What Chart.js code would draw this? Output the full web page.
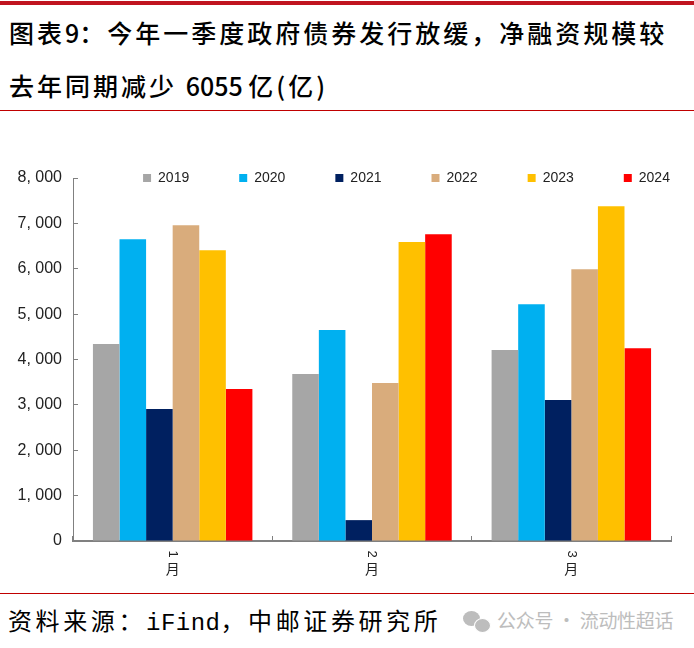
<!DOCTYPE html>
<html>
<head>
<meta charset="utf-8">
<script src="https://cdn.jsdelivr.net/npm/chart.js@4"></script>
<style>
  html, body { margin: 0; padding: 0; background: #fff; }
  body { width: 694px; height: 648px; position: relative; overflow: hidden; font-family: "Noto Sans CJK SC", sans-serif; }
  .abs { position: absolute; white-space: nowrap; }
  #topbar { left: 0; top: 1px; width: 694px; height: 4px; background: #c0141f; }
  #line1 { left: 0; top: 110px; width: 694px; height: 1px; background: #c00000; }
  #line2 { left: 0; top: 593px; width: 694px; height: 1px; background: #c00000; }
  .title { left: 9px; font-size: 25px; font-weight: 500; letter-spacing: 3px; color: #000; line-height: 34px; }
  .title b { font-weight: 500; letter-spacing: 0; }
  #source { left: 8px; top: 603px; font-size: 24px; letter-spacing: 3.6px; line-height: 34px; color: #000; }
  #source span { font-family: "Liberation Mono", monospace; letter-spacing: 0.5px; }
  #mark { left: 497px; top: 606px; font-size: 19px; letter-spacing: -0.3px; line-height: 28px; color: #bdbdbd; }
  .dot { position: absolute; border-radius: 50%; background: #bdbdbd; }
  #wrap { left: 0; top: 104px; width: 694px; height: 476px; }
</style>
</head>
<body>
<div class="abs" id="wrap"><canvas id="grafico" width="694" height="476"></canvas></div>
<div class="abs" id="topbar"></div>
<div class="abs title" style="top:15px">图表<b>9</b>：今年一季度政府债券发行放缓，净融资规模较</div>
<div class="abs title" style="top:68px">去年同期减少 <b>6055 </b>亿(亿)</div>
<div class="abs" id="line1"></div>
<div class="abs" id="line2"></div>
<div class="abs" id="source">资料来源：<span>iFind</span>，中邮证券研究所</div>
<div class="dot" style="left:463px;top:611px;width:17px;height:15px"></div>
<div class="dot" style="left:474px;top:618px;width:15px;height:13px;border:1px solid #fff"></div>
<div class="abs" id="mark">公众号 · 流动性超话</div>
<script>
const categorias = ["1月", "2月", "3月"];
const anos = ["2019", "2020", "2021", "2022", "2023", "2024"];
const cores = ["#a6a6a6", "#00b0f0", "#002060", "#d9ac7c", "#ffc000", "#ff0000"];
const v2019 = [4340, 3680, 4210];
const v2020 = [6650, 4650, 5220];
const v2021 = [2910, 460, 3105];
const v2022 = [6960, 3480, 5990];
const v2023 = [6410, 6590, 7380];
const v2024 = [3350, 6760, 4250];
const valores = [v2019, v2020, v2021, v2022, v2023, v2024];

// y labels are written "8, 000" in the original
function formatar(v) {
  return v === 0 ? "0" : Math.floor(v / 1000) + ", " + String(v % 1000).padStart(3, "0");
}

// month labels: digit turned sideways, 月 upright
const mesesPlugin = {
  id: "meses",
  afterDraw(chart) {
    const ctx = chart.ctx;
    const x = chart.scales.x;
    const y0 = chart.chartArea.bottom;
    ctx.save();
    ctx.fillStyle = "#222";
    ctx.textAlign = "center";
    ctx.textBaseline = "middle";
    categorias.forEach((c, i) => {
      const px = x.getPixelForValue(i);
      ctx.font = "13px 'Liberation Sans'";
      ctx.save();
      ctx.translate(px, y0 + 13);
      ctx.rotate(Math.PI / 2);
      ctx.fillText(c[0], 0, 0);
      ctx.restore();
      ctx.font = "14px 'Noto Sans CJK SC'";
      ctx.fillText(c.slice(1), px, y0 + 28);
    });
    ctx.restore();
  }
};

// legend sits on the top line of the plot, shifted to the right
const legendaPlugin = {
  id: "legendaTopo",
  afterLayout(chart) {
    chart.legend.top = 17;
    chart.legend.bottom = 95;
    chart.legend.left += 71;
    chart.legend.right += 71;
  }
};

new Chart(document.getElementById("grafico"), {
  type: "bar",
  data: {
    labels: categorias,
    datasets: anos.map((a, i) => ({
      label: a,
      data: valores[i],
      backgroundColor: cores[i],
      barPercentage: 1,
      categoryPercentage: 0.8
    }))
  },
  options: {
    responsive: false,
    animation: false,
    layout: { padding: { top: 0, right: 23, left: 0, bottom: 0 } },
    plugins: {
      tooltip: { enabled: false },
      legend: {
        position: "top",
        align: "center",
        labels: {
          boxWidth: 8,
          boxHeight: 8,
          padding: 50,
          color: "#222",
          font: { family: "'Liberation Sans'", size: 14 }
        }
      }
    },
    scales: {
      x: {
        afterFit(s) { s.height = 39; s.paddingLeft = 0; s.paddingRight = 0; },
        ticks: { display: false },
        border: { color: "#808080", width: 2 },
        grid: { drawOnChartArea: false, drawTicks: true, tickLength: -5, color: "#808080" }
      },
      y: {
        min: 0,
        max: 8000,
        afterFit(s) { s.width = 73; s.paddingTop = 0; s.paddingBottom = 0; },
        ticks: {
          stepSize: 1000,
          padding: 16,
          color: "#222",
          font: { family: "'Liberation Sans'", size: 16 },
          callback: formatar
        },
        border: { color: "#808080", width: 1 },
        grid: { drawOnChartArea: false, drawTicks: true, tickLength: -5, color: "#808080" }
      }
    }
  },
  plugins: [mesesPlugin, legendaPlugin]
});
</script>
</body>
</html>
